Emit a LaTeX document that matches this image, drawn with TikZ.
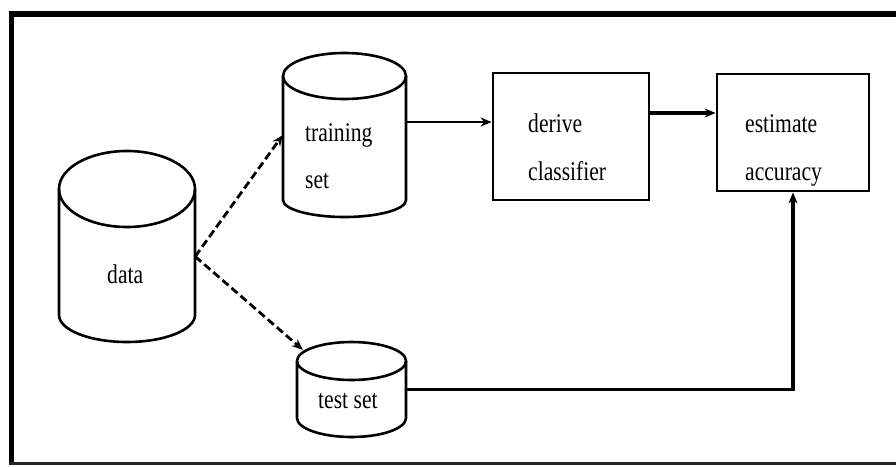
\documentclass[tikz,border=0pt]{standalone}
\usepackage{fontspec}
\setmainfont{Liberation Serif}
\usetikzlibrary{arrows.meta}
\newcommand\nt[1]{\scalebox{0.8}[1]{#1}}
\newcommand\mycyl[6]{%
  \draw[shapeline] (#1,#3) ellipse [x radius=#2, y radius=#4];
  \draw[shapeline] (#1-#2,#3) -- (#1-#2,#5) arc[start angle=180, end angle=0, x radius=#2, y radius=#6] -- (#1+#2,#3);
}
\begin{document}
\begin{tikzpicture}[x=1pt,y=-1pt,
  shapeline/.style={line width=2.6pt, line join=round},
  boxnode/.style={draw, line width=2.8pt, inner sep=0pt},
  lbl/.style={font=\fontsize{27}{30}\selectfont, inner sep=0pt, anchor=base west},
  dasharrow/.style={line width=2.8pt, dash pattern=on 8pt off 4pt, -{Stealth[length=11pt,width=9pt]}},
  thinarrow/.style={line width=2pt, -{Stealth[length=11pt,width=9pt]}},
  thickarrow/.style={line width=3.4pt, -{Stealth[length=11pt,width=9pt]}}]
\useasboundingbox (0,0) rectangle (896,466);
\fill[white] (0,0) rectangle (896,466);
% frame
\draw[line width=6pt] (9,13.5) -- (896,13.5);
\draw[line width=5pt] (11,11.5) -- (11,463);
\draw[line width=3pt, black!85] (9,463) -- (896,463);
% cylinders
\mycyl{127}{68}{189}{38}{315}{27}
\mycyl{344.5}{61.5}{76}{23}{200}{17}
\mycyl{351.5}{54.5}{361}{19}{418}{19}
\node[inner sep=0pt, minimum width=136pt, minimum height=191pt] (data) at (127,246.5) {};
\node[inner sep=0pt, minimum width=123pt, minimum height=164pt] (training) at (344.5,135) {};
\node[inner sep=0pt, minimum width=109pt, minimum height=95pt] (test) at (351.5,389.5) {};
% boxes
\node[boxnode, minimum width=156pt, minimum height=127pt] (derive) at (571,136.5) {};
\node[boxnode, minimum width=152pt, minimum height=117pt] (est) at (793,132.5) {};
% labels
\node[lbl] (ldata) at (107,283) {\nt{data}};
\node[lbl] (ltrain) at (305,141) {\nt{training}};
\node[lbl] (lset) at (305,188) {\nt{set}};
\node[lbl] (ltest) at (318,408) {\nt{test set}};
\node[lbl] (lderive) at (528,132) {\nt{derive}};
\node[lbl] (lclass) at (528,180) {\nt{classifier}};
\node[lbl] (lest) at (745,132) {\nt{estimate}};
\node[lbl] (lacc) at (745,180) {\nt{accuracy}};
% connectors
\coordinate (dout) at ([yshift=-10pt]data.east);
\coordinate (tin) at ([shift={(6pt,-8pt)}]test.north west);
\coordinate (t1) at ([yshift=13pt]training.east);
\coordinate (d1) at ([yshift=23.5pt]derive.east);
\draw[dasharrow] (dout) -- (training.west);
\draw[dasharrow] (dout) -- (tin);
\draw[thinarrow] (t1) -- (t1 -| derive.west);
\draw[thickarrow] (d1) -- (d1 -| est.west);
\draw[thickarrow] (test.east) -| (est.south);
\end{tikzpicture}
\end{document}
